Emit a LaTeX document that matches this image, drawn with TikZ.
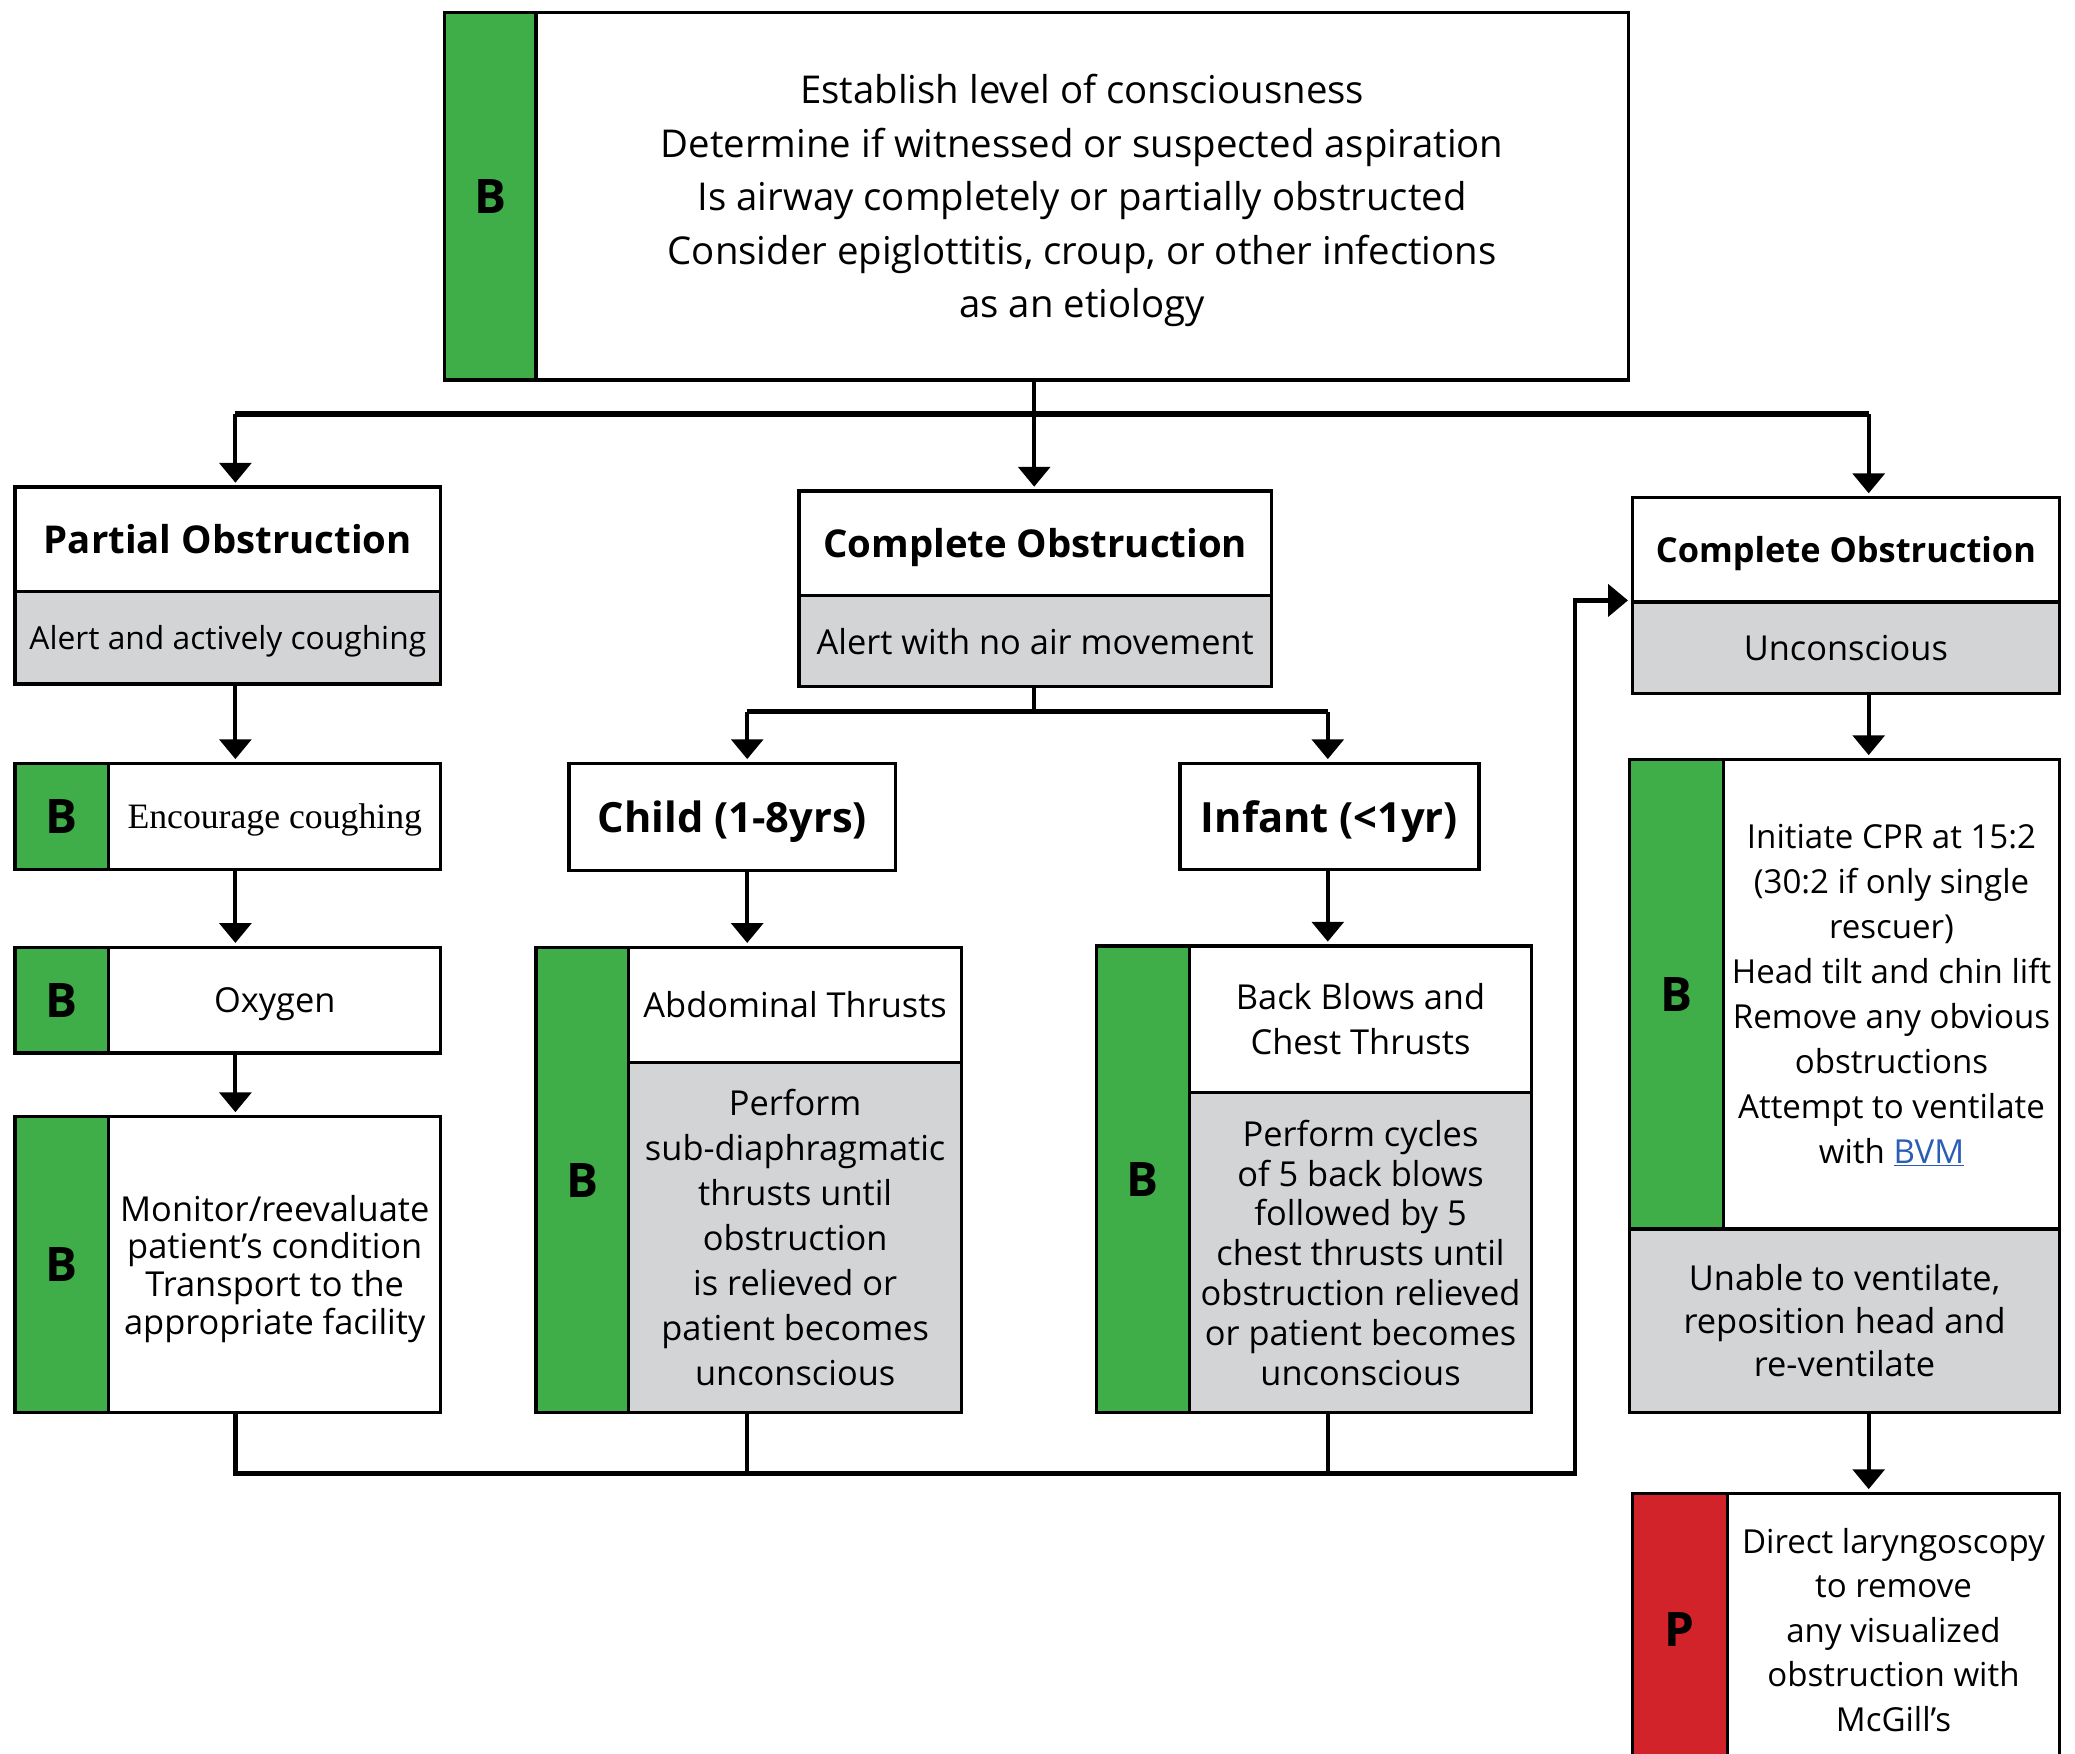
\documentclass[tikz,border=0pt]{standalone}
\usepackage{fontspec}
\setmainfont{Open Sans}
\newfontfamily\encfont{Liberation Serif}
\usetikzlibrary{%
  arrows.meta,%
  positioning,%
  calc%
}
\definecolor{bgreen}{HTML}{3FAE49}
\definecolor{bgrey}{HTML}{D3D4D6}
\definecolor{pred}{HTML}{D2232A}
\definecolor{linkblue}{HTML}{2B5DB5}

\begin{document}
\begin{tikzpicture}
  [
  x=1pt, y=-1pt,
  box/.style={rectangle, draw=black, line width=2.5pt, inner sep=0pt, text depth=0pt, anchor=north west, align=center, font=\fontsize{26}{34}\selectfont},
  tagbox/.style={box, fill=bgreen, font=\fontsize{36}{40}\selectfont\bfseries},
  greybox/.style={box, fill=bgrey},
  titlebox/.style={box, font=\fontsize{29}{34}\selectfont\bfseries},
  arr/.style={-{Triangle[width=24pt,length=15pt]}, line width=3pt, shorten >=2pt},
  line/.style={line width=3pt},
  bar/.style={line width=4pt},
  ]

  \useasboundingbox (0,0) rectangle (1569,1326);

  % assessment
  \node[tagbox, minimum width=69pt, minimum height=278pt] (b0) at (335,8) {B};
  \node[box, minimum width=826pt, minimum height=278pt, font=\fontsize{29}{40.5}\selectfont] (t0) at (404,8)
    {Establish level of consciousness\\Determine if witnessed or suspected aspiration\\Is airway completely or partially obstructed\\Consider epiglottitis, croup, or other infections\\as an etiology};

  % partial obstruction
  \node[titlebox, minimum width=322pt, minimum height=79pt] (p1) at (10,367) {Partial Obstruction};
  \node[greybox, minimum width=322pt, minimum height=70pt, font=\fontsize{24}{30}\selectfont] (p2) at (10,446) {Alert and actively coughing};
  \node[tagbox, minimum width=71pt, minimum height=80pt] (pb1) at (10,576) {B};
  \node[box, minimum width=251pt, minimum height=80pt, font=\encfont\fontsize{27}{32}\selectfont] (p3) at (81,576) {Encourage coughing};
  \node[tagbox, minimum width=71pt, minimum height=80pt] (pb2) at (10,715) {B};
  \node[box, minimum width=251pt, minimum height=80pt] (p4) at (81,715) {Oxygen};
  \node[tagbox, minimum width=71pt, minimum height=224pt] (pb3) at (10,843) {B};
  \node[box, minimum width=251pt, minimum height=224pt, font=\fontsize{26}{28.5}\selectfont] (p5) at (81,843)
    {Monitor/reevaluate\\patient’s condition\\Transport to the\\appropriate facility};

  % complete obstruction, conscious
  \node[titlebox, minimum width=357pt, minimum height=79pt] (c1) at (603,370) {Complete Obstruction};
  \node[greybox, minimum width=357pt, minimum height=69pt] (c2) at (603,449) {Alert with no air movement};

  \node[titlebox, minimum width=247pt, minimum height=81pt, font=\fontsize{31.5}{36}\selectfont\bfseries] (k1) at (429,576) {Child (1-8yrs)};
  \node[tagbox, minimum width=70pt, minimum height=352pt] (kb) at (404,715) {B};
  \node[box, minimum width=252pt, minimum height=87pt] (k2) at (474,715) {Abdominal Thrusts};
  \node[greybox, minimum width=252pt, minimum height=265pt] (k3) at (474,802)
    {Perform\\sub-diaphragmatic\\thrusts until\\obstruction\\is relieved or\\patient becomes\\unconscious};

  \node[titlebox, minimum width=226pt, minimum height=80pt, font=\fontsize{31.5}{36}\selectfont\bfseries] (i1) at (891,576) {Infant (<1yr)};
  \node[tagbox, minimum width=70pt, minimum height=353pt] (ib) at (828,714) {B};
  \node[box, minimum width=259pt, minimum height=111pt] (i2) at (898,714) {Back Blows and\\Chest Thrusts};
  \node[greybox, minimum width=259pt, minimum height=242pt, font=\fontsize{26}{30.2}\selectfont] (i3) at (898,825)
    {Perform cycles\\of 5 back blows\\followed by 5\\chest thrusts until\\obstruction relieved\\or patient becomes\\unconscious};

  % complete obstruction, unconscious
  \node[titlebox, minimum width=323pt, minimum height=79pt, font=\fontsize{26}{32}\selectfont\bfseries] (r1) at (1233,375) {Complete Obstruction};
  \node[greybox, minimum width=323pt, minimum height=69pt] (r2) at (1233,454) {Unconscious};
  \node[tagbox, minimum width=71pt, minimum height=355pt] (rb) at (1231,573) {B};
  \node[box, minimum width=254pt, minimum height=355pt, font=\fontsize{25}{34}\selectfont] (r3) at (1302,573)
    {Initiate CPR at 15:2\\(30:2 if only single\\rescuer)\\Head tilt and chin lift\\Remove any obvious\\obstructions\\Attempt to ventilate\\with \textcolor{linkblue}{\underline{BVM}}};
  \node[greybox, minimum width=325pt, minimum height=139pt, font=\fontsize{26}{32.5}\selectfont] (r4) at (1231,928)
    {Unable to ventilate,\\reposition head and\\re-ventilate};
  \node[tagbox, fill=pred, minimum width=72pt, minimum height=206pt] (rp) at (1233,1128) {P};
  \node[box, minimum width=251pt, minimum height=206pt, font=\fontsize{25}{33.7}\selectfont] (r5) at (1305,1128)
    {Direct laryngoscopy\\to remove\\any visualized\\obstruction with\\McGill’s};

  % connectors
  \coordinate (j0) at (782,313);
  \coordinate (j1) at (782,538);
  \coordinate (j2) at (1191,1114);
  \coordinate (colA) at (178,0);
  \coordinate (colB) at (565,0);
  \coordinate (colC) at (1004,0);
  \coordinate (colD) at (1413,0);

  \draw[line] (t0.south -| j0) -- (j0);
  \draw[bar] (colA |- j0) -- (colD |- j0);
  \foreach \c/\n in {colA/p1, j0/c1, colD/r1}
    \draw[arr] (\c |- j0) -- (\c |- \n.north);

  \foreach \a/\b in {p2/p3, p3/p4, p4/p5}
    \draw[arr] (colA |- \a.south) -- (colA |- \b.north);

  \draw[line] (c2.south -| j1) -- (j1);
  \draw[bar] (colB |- j1) -- (colC |- j1);
  \draw[arr] (colB |- j1) -- (colB |- k1.north);
  \draw[arr] (colC |- j1) -- (colC |- i1.north);
  \draw[arr] (colB |- k1.south) -- (colB |- k2.north);
  \draw[arr] (colC |- i1.south) -- (colC |- i2.north);

  \draw[arr] (colD |- r2.south) -- (colD |- r3.north);
  \draw[arr] (colD |- r4.south) -- (colD |- r5.north);

  \draw[line] (colB |- k3.south) -- (colB |- j2);
  \draw[line] (colC |- i3.south) -- (colC |- j2);
  \draw[arr, line width=3.5pt] (colA |- p5.south) |- (j2) -- (j2 |- r2.north west) -- (r2.north west);
\end{tikzpicture}
\end{document}
